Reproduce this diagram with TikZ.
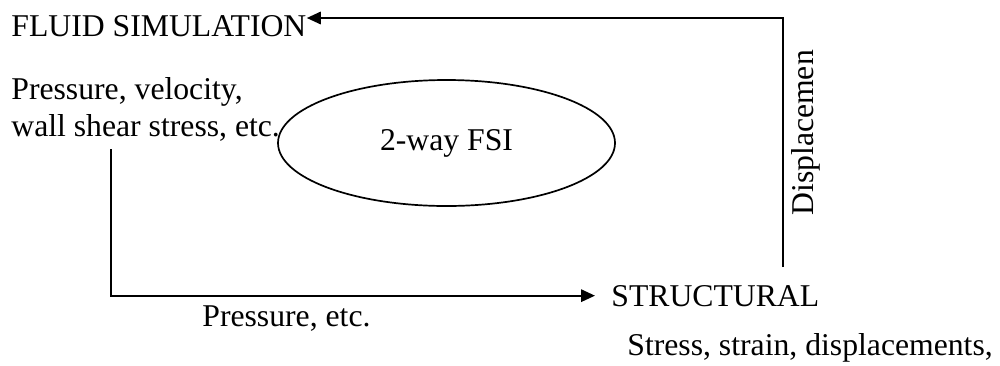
\documentclass[tikz,border=0pt]{standalone}
\usepackage{fontspec}
\setmainfont{Liberation Serif}
\usetikzlibrary{arrows.meta,shapes.geometric}
\begin{document}
\begin{tikzpicture}[x=0.5pt,y=-0.5pt,
  lbl/.style={inner sep=0pt, anchor=base west, font=\fontsize{15.85}{19}\selectfont},
  link/.style={line width=1pt},
  arr/.style={link, -{Triangle[length=7pt,width=6.2pt]}},
  loop/.style={draw, ellipse, line width=0.85pt, inner sep=0pt,
    minimum width=168.5pt, minimum height=63pt,
    font=\fontsize{15.85}{19}\selectfont}]
\useasboundingbox (0,0) rectangle (1000,365);

% fluid side
\node[lbl] (fluid) at (11,36) {FLUID SIMULATION};
\node[lbl] (fout1) at (11,99) {Pressure, velocity,};
\node[lbl] (fout2) at (11,136) {wall shear stress, etc.};

% coupling loop
\node[loop] (fsi) at (446.5,143) {2-way FSI};

% structural side
\node[lbl] (struct) at (611,306) {STRUCTURAL};
\node[lbl] (sout) at (627,355) {Stress, strain, displacements,};

% transferred quantities
\node[lbl] (pout) at (202,326) {Pressure, etc.};
\node[lbl, rotate=90] (disp) at (813,216) {Displacemen};

% fluid -> structure
\coordinate (fsrc) at (111,149);
\draw[arr] (fsrc) |- ([xshift=-8pt]struct.west);

% structure -> fluid
\coordinate (ssrc) at (783,267);
\coordinate (topy) at (0,18);
\draw[arr] (ssrc) |- (fluid.east |- topy);
\end{tikzpicture}
\end{document}
